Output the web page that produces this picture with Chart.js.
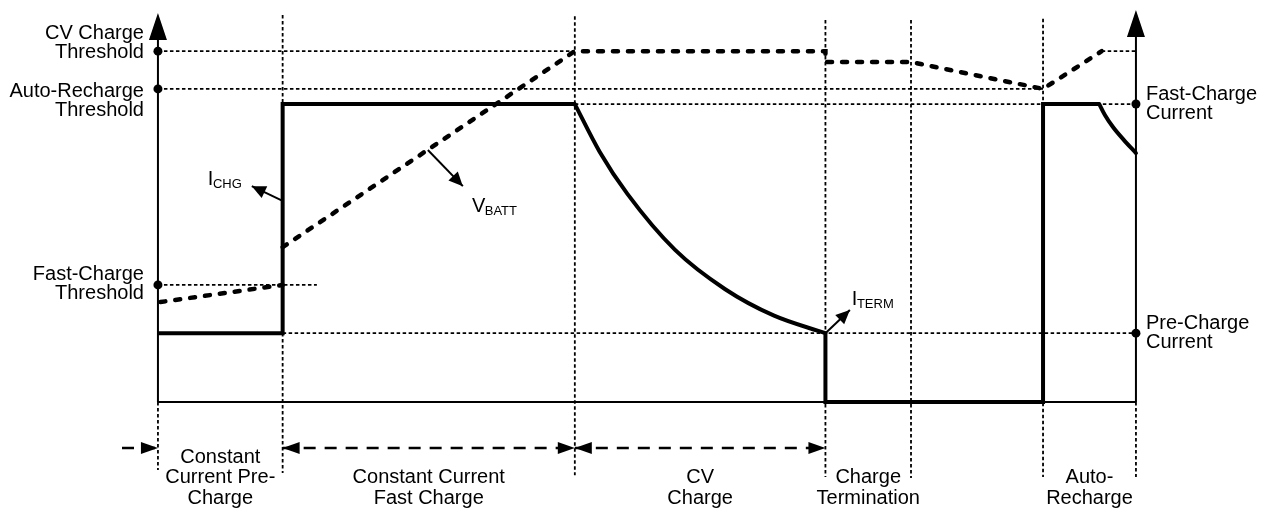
<!DOCTYPE html>
<html>
<head>
<meta charset="utf-8">
<script src="https://cdn.jsdelivr.net/npm/chart.js"></script>
<style>
  html, body { margin: 0; padding: 0; background: #fff; }
  canvas { display: block; }
</style>
</head>
<body>
<canvas id="chargeProfile" width="1267" height="509"></canvas>
<script>
// time axis (arbitrary units): where each charge phase starts / ends
const phaseEdges = [0, 5.1, 17.05, 27.3, 30.8, 36.2, 40];
const phaseLabels = [
  ["Constant", "Current Pre-", "Charge"],
  ["Constant Current", "Fast Charge"],
  ["CV", "Charge"],
  ["Charge", "Termination"],
  null,
  ["Auto-", "Recharge"],
];

// levels marked on the left (voltage) and right (current) axes
const leftLevels = [90.2, 80.5, 30.1];
const leftLabels = [["CV Charge", "Threshold"], ["Auto-Recharge", "Threshold"], ["Fast-Charge", "Threshold"]];
const rightLevels = [76.6, 17.7];
const rightLabels = [["Fast-Charge", "Current"], ["Pre-Charge", "Current"]];

// charge current, [t, I]
const currentPre = [[0, 17.7], [5.1, 17.7], [5.1, 76.6], [17.05, 76.6]];
const currentTaper = [[17.05, 76.6], [18.07, 64.3], [19.2, 53.5], [21.15, 39.1], [23.2, 29.0], [25.2, 22.2], [27.3, 17.7]];
const currentTerm = [[27.3, 17.7], [27.3, 0], [36.2, 0], [36.2, 76.6], [38.5, 76.6]];
const currentRecharge = [[38.5, 76.6], [38.73, 73.8], [39.06, 70.7], [39.5, 67.4], [40, 64.0]];

// battery voltage, [t, V]
const vbattPre = [[0.1, 25.7], [5.1, 30.1]];
const vbattMain = [[5.1, 39.8], [17.05, 90.2], [27.3, 90.2], [27.3, 87.4], [30.8, 87.4], [36.2, 80.5], [38.6, 90.2]];

// dotted guides: horizontal [t0, t1, level], vertical extents per phase edge
const hGuides = [[0, 17.05, 90.2], [0, 36.2, 80.5], [17.05, 40, 76.6], [0, 6.5, 30.1], [5.1, 40, 17.7], [38.6, 40, 90.2]];
const vGuideTop = [0, 99.5, 99.2, 98.2, 98.2, 98.5, 0];
const vGuideBottom = [-17.5, -18.25, -18.8, -19.3, -19.5, -19.3, -19.3];

// signal tags and their pointer arrows [t0, y0, tipT, tipY]
const tagText = [["I", "CHG"], ["V", "BATT"], ["I", "TERM"]];
const tagAt = [[2.04, 55.7], [12.84, 48.8], [28.38, 24.9]];
const tagArrows = [[5.1, 51.7, 3.84, 55.5], [11.04, 64.8, 12.47, 55.5], [27.3, 17.7, 28.3, 23.65]];

// phase span arrows under the time axis [t0, t1, headAtStart, headAtEnd]
const spanArrows = [[-1.47, 0, false, true], [5.1, 17.05, true, true], [17.05, 27.3, true, true]];
const spanLevel = -11.83;

// top of the two vertical axes (arrow tips)
const axisTips = [[0, 100], [40, 100.8]];

const FONT = '"Liberation Sans", Arial, sans-serif';
const pts = arr => arr.map(p => ({ x: p[0], y: p[1] }));

const thick = { borderColor: "#000", borderWidth: 4, showLine: true, pointRadius: 0, borderJoinStyle: "miter", fill: false };
const dotted = { borderColor: "#000", borderWidth: 1.8, borderDash: [3.5, 2.5], showLine: true, pointRadius: 0, fill: false };

const datasets = [];

// marker dots on the axes
datasets.push({
  data: leftLevels.map(v => ({ x: 0, y: v })).concat(rightLevels.map(v => ({ x: 40, y: v }))),
  pointRadius: 4.5, pointBackgroundColor: "#000", pointBorderWidth: 0, showLine: false,
});

// charge current
datasets.push({ ...thick, data: pts(currentPre), tension: 0 });
datasets.push({ ...thick, data: pts(currentTaper), cubicInterpolationMode: "monotone", borderCapStyle: "round" });
datasets.push({ ...thick, data: pts(currentTerm), tension: 0 });
datasets.push({ ...thick, data: pts(currentRecharge), cubicInterpolationMode: "monotone", borderCapStyle: "round" });

// battery voltage
const vStyle = { borderColor: "#000", borderWidth: 4.5, borderDash: [5, 10], borderCapStyle: "round", showLine: true, pointRadius: 0, tension: 0, fill: false };
datasets.push({ ...vStyle, data: pts(vbattPre) });
datasets.push({ ...vStyle, data: pts(vbattMain) });

// axes
const axisLine = { borderColor: "#000", borderWidth: 2, showLine: true, pointRadius: 0, fill: false };
datasets.push({ ...axisLine, data: [{ x: 0, y: 0 }, { x: 0, y: 96 }] });
datasets.push({ ...axisLine, data: [{ x: 40, y: 0 }, { x: 40, y: 97 }] });
datasets.push({ ...axisLine, data: [{ x: 0, y: 0 }, { x: 40, y: 0 }] });

// tag pointers
tagArrows.forEach(a => {
  datasets.push({ ...axisLine, data: [{ x: a[0], y: a[1] }, { x: a[2], y: a[3] }] });
});

// phase span arrows
spanArrows.forEach(a => {
  datasets.push({ ...axisLine, borderWidth: 2.5, borderDash: [12, 9], data: [{ x: a[0], y: spanLevel }, { x: a[1], y: spanLevel }] });
});

// dotted guides
hGuides.forEach(g => {
  datasets.push({ ...dotted, data: [{ x: g[0], y: g[2] }, { x: g[1], y: g[2] }] });
});
phaseEdges.forEach((t, i) => {
  datasets.push({ ...dotted, data: [{ x: t, y: vGuideTop[i] }, { x: t, y: vGuideBottom[i] }] });
});

function arrowHead(ctx, x0, y0, x1, y1, len, half) {
  const a = Math.atan2(y1 - y0, x1 - x0);
  const bx = x1 - len * Math.cos(a), by = y1 - len * Math.sin(a);
  ctx.beginPath();
  ctx.moveTo(x1, y1);
  ctx.lineTo(bx + half * Math.sin(a), by - half * Math.cos(a));
  ctx.lineTo(bx - half * Math.sin(a), by + half * Math.cos(a));
  ctx.closePath();
  ctx.fill();
}

// arrow heads and all the text
const diagramExtras = {
  id: "diagramExtras",
  afterDraw(chart) {
    const ctx = chart.ctx;
    const sx = chart.scales.x, sy = chart.scales.y;
    const X = v => sx.getPixelForValue(v);
    const Y = v => sy.getPixelForValue(v);
    ctx.save();
    ctx.fillStyle = "#000";

    axisTips.forEach(p => arrowHead(ctx, X(p[0]), Y(p[1]) + 40, X(p[0]), Y(p[1]), 27, 9));

    tagArrows.forEach(a => arrowHead(ctx, X(a[0]), Y(a[1]), X(a[2]), Y(a[3]), 14, 6.5));

    spanArrows.forEach(a => {
      const y = Y(spanLevel);
      if (a[2]) arrowHead(ctx, X(a[1]), y, X(a[0]), y, 17, 6);
      if (a[3]) arrowHead(ctx, X(a[0]), y, X(a[1]), y, 17, 6);
    });

    ctx.font = "20px " + FONT;
    ctx.textBaseline = "middle";

    // left axis labels, shifted so the pairs don't collide
    const leftShift = [-8, 12, -1];
    ctx.textAlign = "right";
    leftLevels.forEach((v, i) => {
      const yc = Y(v) + leftShift[i];
      ctx.fillText(leftLabels[i][0], X(0) - 14, yc - 9.5);
      ctx.fillText(leftLabels[i][1], X(0) - 14, yc + 9.5);
    });

    ctx.textAlign = "left";
    rightLevels.forEach((v, i) => {
      const yc = Y(v);
      ctx.fillText(rightLabels[i][0], X(40) + 10, yc - 9.5);
      ctx.fillText(rightLabels[i][1], X(40) + 10, yc + 9.5);
    });

    // phase names under the span arrows
    ctx.textAlign = "center";
    phaseLabels.forEach((lines, i) => {
      if (!lines) return;
      const xc = (X(phaseEdges[i]) + X(phaseEdges[i + 1])) / 2;
      const last = 498;
      lines.forEach((s, k) => {
        ctx.fillText(s, xc, last - (lines.length - 1 - k) * 20.5);
      });
    });

    // signal tags with subscripts
    ctx.textAlign = "left";
    ctx.textBaseline = "alphabetic";
    tagText.forEach((t, i) => {
      const x = X(tagAt[i][0]), y = Y(tagAt[i][1]);
      ctx.font = "20px " + FONT;
      ctx.fillText(t[0], x, y);
      const w = ctx.measureText(t[0]).width;
      ctx.font = "13px " + FONT;
      ctx.fillText(t[1], x + w - 0.5, y + 3);
    });

    ctx.restore();
  },
};

new Chart(document.getElementById("chargeProfile"), {
  type: "scatter",
  data: { datasets },
  options: {
    responsive: false,
    animation: false,
    layout: { padding: 0, autoPadding: false },
    scales: {
      x: { type: "linear", display: false, min: -6.46, max: 45.36 },
      y: { type: "linear", display: false, min: -27.5, max: 103.35 },
    },
    plugins: { legend: { display: false }, tooltip: { enabled: false } },
    elements: { point: { radius: 0 } },
  },
  plugins: [diagramExtras],
});
</script>
</body>
</html>
